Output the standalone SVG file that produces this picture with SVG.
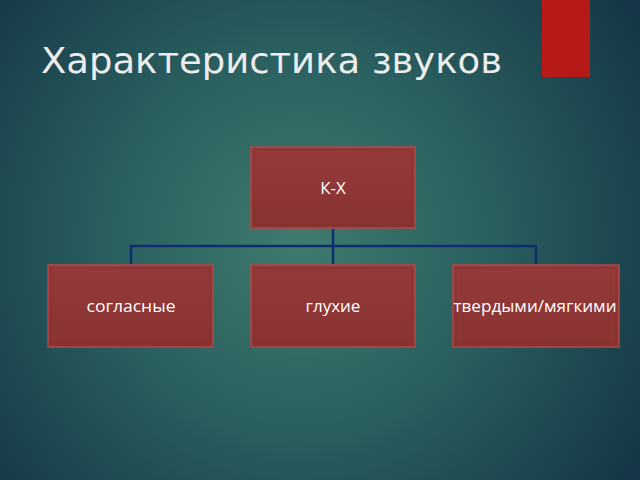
<svg xmlns="http://www.w3.org/2000/svg" width="640" height="480" viewBox="0 0 640 480">
<defs>
<radialGradient id="bg" cx="300" cy="240" r="420" gradientUnits="userSpaceOnUse">
<stop offset="0" stop-color="#3f7b6f"/>
<stop offset="0.45" stop-color="#2a5f5f"/>
<stop offset="1" stop-color="#133445"/>
</radialGradient>
<linearGradient id="box" x1="0" y1="0" x2="0" y2="1">
<stop offset="0" stop-color="#943a3a"/>
<stop offset="1" stop-color="#8a3333"/>
</linearGradient>
<style>
.node rect.b{fill:url(#box);stroke:#b04848;stroke-width:1.5}
.node rect.i{fill:none;stroke:#7a2a2a;stroke-width:1;opacity:0.35}
.node text{font-family:"Open Sans","Noto Sans","DejaVu Sans",sans-serif;font-size:17px;fill:#ffffff;text-anchor:middle}
.conn{stroke:#0d2f72;stroke-width:2.5;fill:none}
</style>
</defs>
<rect width="640" height="480" fill="url(#bg)"/>
<rect x="542" y="0" width="48" height="77" fill="#b61a18"/>
<text x="41" y="73" font-family="DejaVu Sans,Verdana,sans-serif" font-size="35" fill="#ececec" textLength="461" lengthAdjust="spacingAndGlyphs">Характеристика звуков</text>
<g id="connectors">
<path class="conn" d="M333 228 V264 M131 264 V246 H536 V264"/>
</g>
<g id="n-kx" class="node">
<rect class="b" x="251" y="147" width="164" height="81"/>
<rect class="i" x="254" y="150" width="158" height="75"/>
<text x="333" y="194">К-Х</text>
</g>
<g id="n-soglasnye" class="node">
<rect class="b" x="48" y="265" width="165" height="82"/>
<rect class="i" x="51" y="268" width="159" height="76"/>
<text x="131" y="312" textLength="89" lengthAdjust="spacingAndGlyphs">согласные</text>
</g>
<g id="n-gluhie" class="node">
<rect class="b" x="251" y="265" width="164" height="82"/>
<rect class="i" x="254" y="268" width="158" height="76"/>
<text x="333" y="312">глухие</text>
</g>
<g id="n-tverdye" class="node">
<rect class="b" x="453" y="265" width="166" height="82"/>
<rect class="i" x="456" y="268" width="160" height="76"/>
<text x="535" y="312" textLength="163" lengthAdjust="spacingAndGlyphs">твердыми/мягкими</text>
</g>
</svg>
